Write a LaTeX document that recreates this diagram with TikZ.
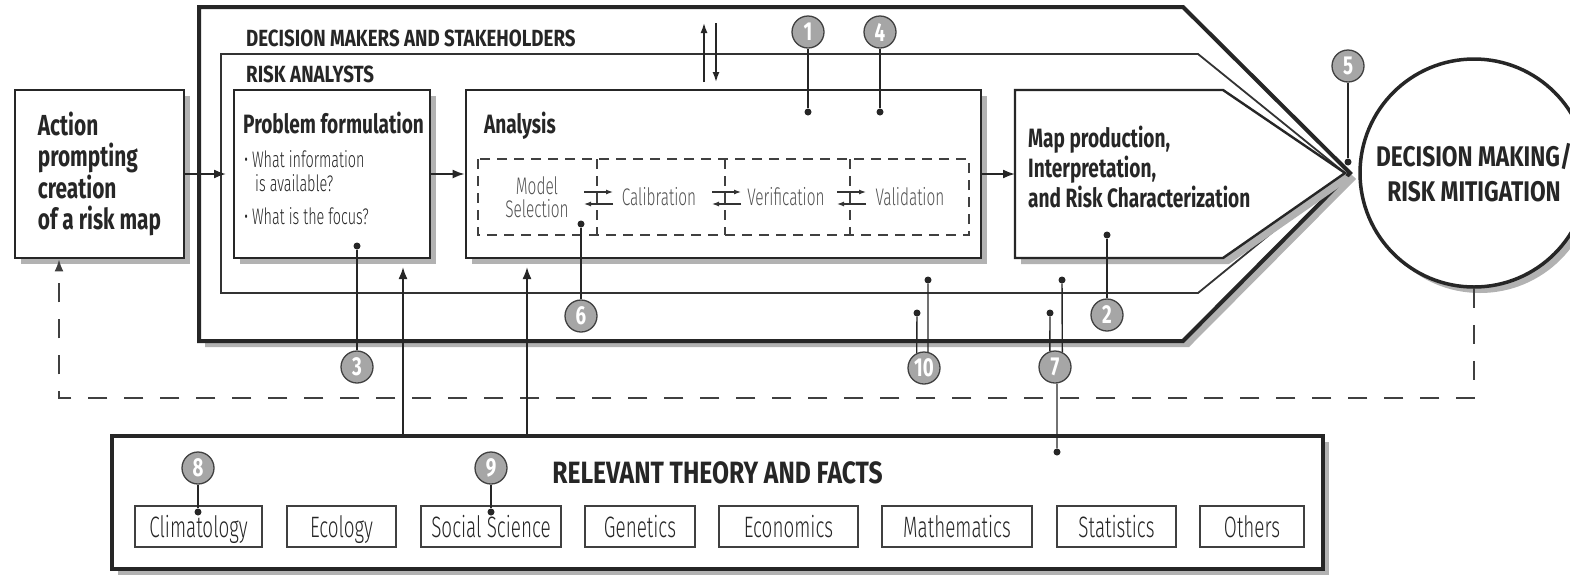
\documentclass[tikz,border=0pt]{standalone}
\usepackage{fontspec}
\setmainfont{Fira Sans}[FakeStretch=0.72]
\newfontfamily\capsfont{Fira Sans}[FakeStretch=0.8]
\IfFontExistsTF{Fira Sans Light}{%
  \newfontfamily\lightfont{Fira Sans Light}[FakeStretch=0.64]}{%
  \newfontfamily\lightfont{Fira Sans}[FakeStretch=0.64]}
\usetikzlibrary{arrows.meta,shadows}

\tikzset{
  boxshadow/.style={drop shadow={shadow xshift=6pt, shadow yshift=-6pt, fill=black!30, opacity=1}},
  frame/.style={draw=black!85, line width=4pt, fill=white, boxshadow},
  riskline/.style={draw=black!80, line width=1.8pt},
  stagebox/.style={draw=black!85, line width=2.8pt, fill=white, inner sep=0pt, boxshadow},
  subj/.style={draw=black!75, line width=1.5pt, fill=white, inner sep=0pt, minimum height=41pt,
    text height=31pt, text depth=10pt, text=black!85, font=\lightfont\fontsize{29.5}{29.5}\selectfont},
  num/.style={circle, draw=black!75, line width=1.3pt, fill=black!35, minimum size=32pt,
    inner sep=0pt, text=white, font=\bfseries\fontsize{26}{26}\selectfont},
  dot/.style={circle, fill=black!85, minimum size=7pt, inner sep=0pt},
  tie/.style={draw=black!85, line width=1.4pt},
  flow/.style={draw=black!85, line width=1.8pt, -{Latex[length=12pt,width=9pt]}},
  back/.style={draw=black!75, line width=2pt, dash pattern=on 19pt off 17pt, -{Latex[length=12pt,width=9pt]}},
  stepdash/.style={draw=black!75, line width=1.8pt, dash pattern=on 10pt off 7pt},
  swap/.style={draw=black!80, line width=1.2pt, -{Latex[length=7pt,width=5pt]}},
  label/.style={inner sep=0pt, text=black!85},
  steptext/.style={inner sep=0pt, text=black!68, font=\lightfont\fontsize{24}{23}\selectfont},
}

\begin{document}
\begin{tikzpicture}[x=1pt, y=-1pt]
	\useasboundingbox (0,0) rectangle (1570,574);

	% decision makers and risk analysts
	\draw[frame] (199,7) -- (1183,7) -- (1350,173) -- (1183,341) -- (199,341) -- cycle;
	\draw[riskline] (221,54) -- (1198,54) -- (1345,173) -- (1198,293) -- (221,293) -- cycle;
	\node[label, anchor=base west, font=\capsfont\bfseries\fontsize{23.4}{23.4}\selectfont] (dms) at (246,46) {DECISION MAKERS AND STAKEHOLDERS};
	\node[label, anchor=base west, font=\capsfont\bfseries\fontsize{23.4}{23.4}\selectfont] (ras) at (246,82) {RISK ANALYSTS};

	% stages
	\node[stagebox, minimum width=169pt, minimum height=168pt, align=left,
	      font=\bfseries\fontsize{29}{31.3}\selectfont, text=black!85] (act) at (99.5,174)
	      {Action\\prompting\\creation\\of a risk map};
	\node[stagebox, minimum width=196pt, minimum height=168pt] (pf) at (332,174) {};
	\node[stagebox, minimum width=515pt, minimum height=168pt] (an) at (723.5,174) {};
	\draw[stagebox, line width=2.4pt] (1015,90) -- (1223,90) -- (1345,173) -- (1223,258) -- (1015,258) -- cycle;
	\coordinate (mapin) at (1015,174);
	\coordinate (riskin) at (226,174);

	\node[label, anchor=base west, font=\bfseries\fontsize{26.5}{26.5}\selectfont] (pft) at (243,133) {Problem formulation};
	\node[label, anchor=base west, font=\lightfont\fontsize{22.5}{22.5}\selectfont] (q1) at (244,167) {\textbullet\,What information};
	\node[label, anchor=base west, font=\lightfont\fontsize{22.5}{22.5}\selectfont] (q1b) at (255,191) {is available?};
	\node[label, anchor=base west, font=\lightfont\fontsize{22.5}{22.5}\selectfont] (q2) at (244,224) {\textbullet\,What is the focus?};

	\node[label, anchor=base west, font=\bfseries\fontsize{26.5}{26.5}\selectfont] (ant) at (484,133) {Analysis};
	\draw[stepdash] (478,159) rectangle (969,235);
	\draw[stepdash] (597,159) -- (597,235);
	\draw[stepdash] (725,159) -- (725,235);
	\draw[stepdash] (850,159) -- (850,235);
	\node[steptext, align=center, anchor=base] (ms) at (537,217) {Model\\Selection};
	\node[steptext, anchor=base] (cal) at (659,205) {Calibration};
	\node[steptext, anchor=base] (ver) at (786,205) {Verification};
	\node[steptext, anchor=base] (val) at (910,205) {Validation};
	\draw[swap] (584,192) -- (613,192);
	\draw[swap] (613,204) -- (584,204);
	\draw[swap] (712,192) -- (741,192);
	\draw[swap] (741,204) -- (712,204);
	\draw[swap] (837,192) -- (866,192);
	\draw[swap] (866,204) -- (837,204);

	\node[label, anchor=base west, font=\bfseries\fontsize{26.5}{26.5}\selectfont] (mp1) at (1028,147) {Map production,};
	\node[label, anchor=base west, font=\bfseries\fontsize{26.5}{26.5}\selectfont] (mp2) at (1028,177) {Interpretation,};
	\node[label, anchor=base west, font=\bfseries\fontsize{26.5}{26.5}\selectfont] (mp3) at (1028,207) {and Risk Characterization};

	\draw[flow] (act) -- (riskin);
	\draw[flow] (pf) -- (an);
	\draw[flow] (an) -- (mapin);

	% exchange between the two groups
	\coordinate (up0) at (704,82);
	\coordinate (up1) at (704,23);
	\coordinate (dn0) at (716,23);
	\coordinate (dn1) at (716,82);
	\draw[flow, line width=1.5pt, -{Latex[length=10pt,width=7pt]}] (up0) -- (up1);
	\draw[flow, line width=1.5pt, -{Latex[length=10pt,width=7pt]}] (dn0) -- (dn1);

	% decision making
	\node[circle, draw=black!85, line width=3.5pt, fill=white, minimum size=228pt, boxshadow,
	      align=center, text=black!85, font=\capsfont\bfseries\fontsize{28.4}{35}\selectfont] (dm) at (1474,173)
	      {DECISION MAKING/\\RISK MITIGATION};
	\coordinate (fbr) at (1474,398);
	\coordinate (fbl) at (59,398);
	\draw[back] (dm.south) -- (fbr) -- (fbl) -- (act.south -| fbl);

	% relevant theory and facts
	\node[stagebox, line width=4pt, minimum width=1211pt, minimum height=133pt] (rel) at (717.5,502.5) {};
	\node[label, anchor=base, font=\capsfont\bfseries\fontsize{30.8}{30.8}\selectfont] (relt) at (717.5,483) {RELEVANT THEORY AND FACTS};
	\node[subj, minimum width=127pt] (cli) at (198.5,526.5) {Climatology};
	\node[subj, minimum width=109pt] (eco) at (341.5,526.5) {Ecology};
	\node[subj, minimum width=140pt] (soc) at (491,526.5) {Social Science};
	\node[subj, minimum width=110pt] (gen) at (640,526.5) {Genetics};
	\node[subj, minimum width=139pt] (ecn) at (788.5,526.5) {Economics};
	\node[subj, minimum width=150pt] (mat) at (957,526.5) {Mathematics};
	\node[subj, minimum width=119pt] (sta) at (1116.5,526.5) {Statistics};
	\node[subj, minimum width=104pt] (oth) at (1252,526.5) {Others};

	\coordinate (upa) at (403,267);
	\coordinate (upb) at (527,267);
	\draw[flow] (rel.north -| upa) -- (upa);
	\draw[flow] (rel.north -| upb) -- (upb);

	% numbered points
	\node[num] (n1) at (808,32) {1};
	\node[num] (n4) at (880,32) {4};
	\node[num] (n5) at (1348,66) {5};
	\node[num] (n2) at (1107,315) {2};
	\node[num] (n3) at (357,367) {3};
	\node[num] (n6) at (581,316) {6};
	\node[num] (n10) at (924,368) {10};
	\node[num] (n7) at (1055,367) {7};
	\node[num] (n8) at (198,468) {8};
	\node[num] (n9) at (491,468) {9};

	\node[dot] (d1) at (808,112) {};
	\node[dot] (d4) at (880,112) {};
	\node[dot] (d5) at (1348,162) {};
	\node[dot] (d2) at (1107,235) {};
	\node[dot] (d3) at (357,246) {};
	\node[dot] (d6) at (581,224) {};
	\node[dot] (d10a) at (917,313) {};
	\node[dot] (d10b) at (928,280) {};
	\node[dot] (d7a) at (1050,313) {};
	\node[dot] (d7b) at (1062,280) {};
	\node[dot] (d7c) at (1057,452) {};
	\node[dot] (d8) at (198,512) {};
	\node[dot] (d9) at (491,512) {};

	\draw[tie] (d1) -- (n1);
	\draw[tie] (d4) -- (n4);
	\draw[tie] (d5) -- (n5);
	\draw[tie] (d2) -- (n2);
	\draw[tie] (d3) -- (n3);
	\draw[tie] (d6) -- (n6);
	\draw[tie] (d10a) -- (n10.116);
	\draw[tie] (d10b) -- (n10.76);
	\draw[tie] (d7a) -- (n7.108);
	\draw[tie] (d7b) -- (n7.64);
	\draw[tie] (d7c) -- (n7.277);
	\draw[tie] (d8) -- (n8);
	\draw[tie] (d9) -- (n9);

\end{tikzpicture}
\end{document}
